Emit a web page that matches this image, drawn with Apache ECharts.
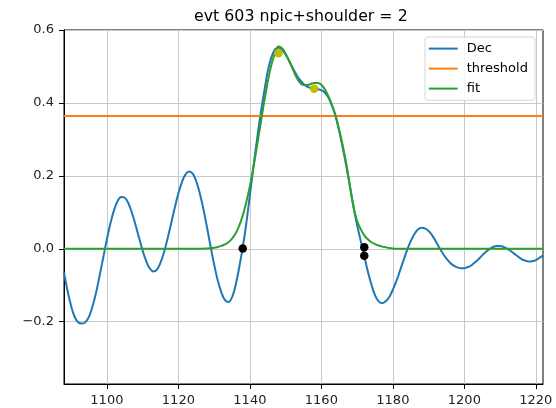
<!DOCTYPE html>
<html><head><meta charset="utf-8">
<script src="https://cdn.jsdelivr.net/npm/echarts@6/dist/echarts.min.js"></script>
<style>html,body{margin:0;padding:0;background:#fff}#c{width:556px;height:408px}</style>
</head><body><div id="c"></div>
<script>
const titleText = 'evt 603 npic+shoulder = 2';
const seriesNames = ['Dec', 'threshold', 'fit'];

// Dec: one value per sample, x = 1088, 1089, ... 1222
const decStartX = 1088;
const decValues = [
  -0.065,-0.115,-0.157,-0.187,-0.202,-0.205,-0.201,-0.186,-0.157,-0.119,
  -0.072,-0.023,0.026,0.070,0.106,0.131,0.142,0.140,0.125,0.099,
  0.066,0.030,-0.005,-0.034,-0.054,-0.062,-0.057,-0.038,-0.009,0.029,
  0.071,0.113,0.152,0.183,0.204,0.212,0.206,0.185,0.152,0.109,
  0.059,0.007,-0.043,-0.086,-0.119,-0.140,-0.146,-0.133,-0.100,-0.052,
  0.004,0.070,0.147,0.225,0.300,0.370,0.430,0.487,0.525,0.546,
  0.552,0.546,0.533,0.515,0.496,0.478,0.463,0.452,0.445,0.441,
  0.439,0.438,0.435,0.428,0.414,0.392,0.362,0.322,0.276,0.225,
  0.170,0.115,0.065,0.022,-0.020,-0.062,-0.098,-0.127,-0.144,-0.149,
  -0.144,-0.132,-0.112,-0.088,-0.060,-0.031,-0.003,0.021,0.040,0.053,
  0.058,0.056,0.049,0.037,0.021,0.003,-0.013,-0.027,-0.038,-0.046,
  -0.051,-0.053,-0.053,-0.050,-0.045,-0.037,-0.028,-0.018,-0.009,-0.001,
  0.005,0.008,0.008,0.005,0.000,-0.006,-0.014,-0.021,-0.028,-0.032,
  -0.035,-0.034,-0.031,-0.025,-0.018
];

// fit curve
const fitX = [1088,1100,1110,1120,1124,1126,1128,1129,1130,1131,1132,1133,1134,1135,1136,1137,
  1138,1139,1140,1141,1142,1143,1144,1145,1146,1147,1148,1149,1150,1151,1152,1153,1154,1155,1156,1157,
  1158,1159,1160,1161,1162,1163,1164,1165,1166,1167,1168,1169,1170,1171,1172,1173,1174,1175,1176,1177,
  1178,1179,1180,1181,1190,1200,1210,1222];
const fitY = [0,0,0,0,0,0,0.001,0.002,0.003,0.005,0.008,0.012,0.018,0.028,0.042,0.063,
  0.091,0.128,0.172,0.224,0.282,0.343,0.403,0.458,0.504,0.536,0.555,0.550,0.535,0.515,0.493,0.471,0.456,0.449,0.449,0.452,
  0.455,0.455,0.450,0.437,0.418,0.393,0.365,0.326,0.282,0.232,0.172,0.114,0.076,0.054,0.037,0.026,0.018,0.013,0.009,0.006,
  0.004,0.002,0.001,0,0,0,0,0];

const thresholdValue = 0.364;
const thresholdX = [1088, 1222];

const peakX = [1148.0, 1158.0];
const peakY = [0.536, 0.439];
const zeroX = [1138.0, 1172.0, 1172.0];
const zeroY = [0.001, 0.004, -0.019];

const xTicks = [1100, 1120, 1140, 1160, 1180, 1200, 1220];
const yTicks = [-0.2, 0, 0.2, 0.4, 0.6];
const xRange = [1088, 1222];
const yRange = [-0.3707, 0.6];

const FONT = 'DejaVu Sans';
const decData = decValues.map((v, i) => [decStartX + i, v]);
const fitData = fitX.map((x, i) => [x, fitY[i]]);
const thrData = thresholdX.map(x => [x, thresholdValue]);
const peakData = peakX.map((x, i) => [x, peakY[i]]);
const zeroData = zeroX.map((x, i) => [x, zeroY[i]]);

const chart = echarts.init(document.getElementById('c'), null, {renderer: 'canvas'});
chart.setOption({
  animation: false,
  backgroundColor: '#ffffff',
  title: {
    text: titleText, left: 194, top: 9, padding: 0,
    textStyle: {fontFamily: FONT, fontSize: 15.8, fontWeight: 'normal', color: '#000'}
  },
  legend: {
    data: seriesNames, orient: 'vertical', left: 425, top: 37, icon: 'rect',
    padding: [4.6, 7, 4.7, 3.7], itemGap: 6, itemWidth: 29, itemHeight: 2,
    backgroundColor: 'rgba(255,255,255,0.8)', borderColor: '#d6d6d6', borderWidth: 1, borderRadius: 3,
    textStyle: {fontFamily: FONT, fontSize: 13, color: '#000', lineHeight: 14, padding: [0, 0, 0, 4]}
  },
  grid: {left: 64, right: 13, top: 30, bottom: 24, show: true, borderColor: '#000', borderWidth: 1, containLabel: false},
  xAxis: {
    type: 'value', min: xRange[0], max: xRange[1],
    axisLine: {show: true, onZero: false, lineStyle: {color: '#000', width: 1}},
    axisTick: {show: true, inside: false, length: 5, lineStyle: {color: '#000', width: 1}, customValues: xTicks},
    axisLabel: {customValues: xTicks, margin: 10, fontFamily: FONT, fontSize: 13, color: '#222', formatter: v => String(v)},
    splitLine: {show: true, lineStyle: {color: '#c8c8c8', width: 1}}
  },
  yAxis: {
    type: 'value', min: yRange[0], max: yRange[1],
    axisLine: {show: true, onZero: false, lineStyle: {color: '#000', width: 1}},
    axisTick: {show: true, inside: false, length: 5, lineStyle: {color: '#000', width: 1}, customValues: yTicks},
    axisLabel: {customValues: yTicks, margin: 10, fontFamily: FONT, fontSize: 13, color: '#222',
      formatter: v => (v < 0 ? '\u2212' : '') + Math.abs(v).toFixed(1)},
    splitLine: {show: true, lineStyle: {color: '#c8c8c8', width: 1}}
  },
  series: [
    {name: 'Dec', type: 'line', data: decData, symbol: 'none', smooth: 0.4, clip: true, z: 2,
      lineStyle: {color: '#1f77b4', width: 2}, itemStyle: {color: '#1f77b4'}},
    {name: 'threshold', type: 'line', data: thrData, symbol: 'none', clip: true, z: 3,
      lineStyle: {color: '#ff7f0e', width: 2}, itemStyle: {color: '#ff7f0e'}},
    {name: 'fit', type: 'line', data: fitData, symbol: 'none', smooth: 0.4, clip: true, z: 4,
      lineStyle: {color: '#2ca02c', width: 2}, itemStyle: {color: '#2ca02c'}},
    {name: 'peaks', type: 'scatter', data: peakData, symbol: 'circle', symbolSize: 8.5, z: 5,
      itemStyle: {color: '#bfbf00', opacity: 1}},
    {name: 'zeros', type: 'scatter', data: zeroData, symbol: 'circle', symbolSize: 8.5, z: 6,
      itemStyle: {color: '#000', opacity: 1}}
  ]
});
</script></body></html>
